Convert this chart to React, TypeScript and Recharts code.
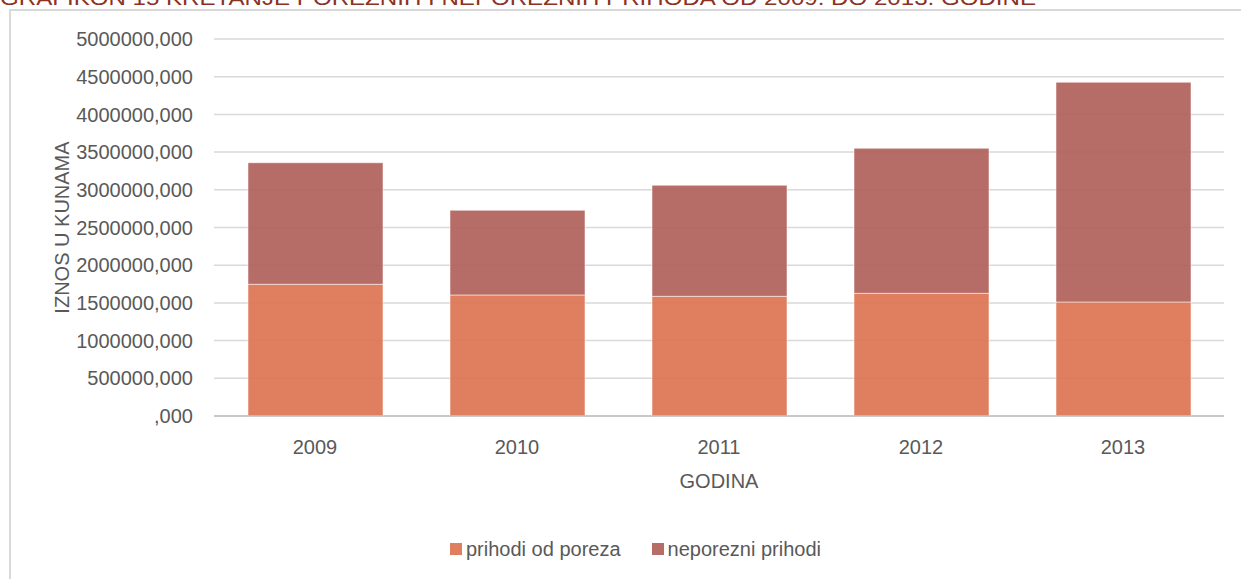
import React from 'react';
import { BarChart, Bar, XAxis, YAxis, CartesianGrid, Legend, Label } from 'recharts';

const years = ['2009', '2010', '2011', '2012', '2013'];
const porezni = [1747000, 1605000, 1587000, 1627000, 1512000];
const neporezni = [1612000, 1123000, 1473000, 1923000, 2914000];
const yTicks = [0, 500000, 1000000, 1500000, 2000000, 2500000, 3000000, 3500000, 4000000, 4500000, 5000000];
const seriesNames = ['prihodi od poreza', 'neporezni prihodi'];
const seriesColors = ['#DD7452', '#B1615A'];

const data = years.map((y, i) => ({ year: y, porezni: porezni[i], neporezni: neporezni[i] }));

const FONT = '"Liberation Sans", Arial, sans-serif';
const TEXT = '#595959';

const fmt = (v: number) => (v === 0 ? ',000' : `${v},000`);

const YLabel = (props: any) => {
  const vb = props.viewBox || {};
  const cx = (vb.x || 0) + 62;
  const cy = (vb.y || 0) + (vb.height || 0) / 2;
  return (
    <text
      x={cx}
      y={cy}
      transform={`rotate(-90 ${cx} ${cy})`}
      textAnchor="middle"
      dominantBaseline="central"
      fill={TEXT}
      fontSize={20}
      fontFamily={FONT}
    >
      IZNOS U KUNAMA
    </text>
  );
};

const LegendContent = () => (
  <div
    style={{
      height: 40,
      display: 'flex',
      alignItems: 'center',
      justifyContent: 'center',
      paddingLeft: 47,
      fontFamily: FONT,
      fontSize: 20,
      color: TEXT,
    }}
  >
    {seriesNames.map((n, i) => (
      <div key={n} style={{ display: 'flex', alignItems: 'center', marginRight: i === 0 ? 31 : 0 }}>
        <span style={{ width: 12, height: 12, background: seriesColors[i], opacity: 0.92, display: 'inline-block', marginRight: 4 }} />
        <span>{n}</span>
      </div>
    ))}
  </div>
);

export default function App() {
  return (
    <div style={{ position: 'absolute', left: 0, top: 0, width: 1241, height: 579, overflow: 'hidden', background: '#fff' }}>
      <svg width={1241} height={20} style={{ position: 'absolute', left: 0, top: 0 }}>
        <text
          x={0}
          y={4.5}
          fontFamily={FONT}
          fontSize={20}
          fill="#8B3224"
          textLength={1036}
          lengthAdjust="spacingAndGlyphs"
        >
          GRAFIKON 15 KRETANJE POREZNIH I NEPOREZNIH PRIHODA OD 2009. DO 2013. GODINE
        </text>
      </svg>
      <div
        style={{
          position: 'absolute',
          left: 9,
          top: 9,
          width: 1260,
          height: 600,
          border: '2px solid #d9d9d9',
          boxSizing: 'border-box',
        }}
      />
      <div style={{ position: 'absolute', left: 0, top: 0 }}>
        <BarChart
          width={1241}
          height={579}
          data={data}
          margin={{ top: 39, right: 17, bottom: 10, left: 0 }}
          barSize={135}
        >
          <CartesianGrid vertical={false} stroke="#d9d9d9" strokeWidth={1.5} />
          <XAxis
            dataKey="year"
            height={113}
            tickLine={false}
            axisLine={{ stroke: '#bfbfbf', strokeWidth: 1.5 }}
            tickMargin={18}
            tick={{ fill: TEXT, fontSize: 20, fontFamily: FONT }}
          >
            <Label
              value="GODINA"
              position="insideTop"
              offset={58}
              fill={TEXT}
              fontSize={20}
              fontFamily={FONT}
            />
          </XAxis>
          <YAxis
            width={214}
            domain={[0, 5000000]}
            ticks={yTicks}
            interval={0}
            tickFormatter={fmt}
            tickLine={false}
            axisLine={false}
            tickMargin={15}
            tick={{ fill: TEXT, fontSize: 20, fontFamily: FONT }}
          >
            <Label content={<YLabel />} />
          </YAxis>
          <Legend verticalAlign="bottom" height={40} content={<LegendContent />} />
          <Bar
            dataKey="porezni"
            name={seriesNames[0]}
            stackId="a"
            fill={seriesColors[0]}
            fillOpacity={0.92}
            stroke="rgba(255,255,255,0.5)"
            strokeWidth={1}
            isAnimationActive={false}
          />
          <Bar
            dataKey="neporezni"
            name={seriesNames[1]}
            stackId="a"
            fill={seriesColors[1]}
            fillOpacity={0.92}
            stroke="rgba(255,255,255,0.5)"
            strokeWidth={1}
            isAnimationActive={false}
          />
        </BarChart>
      </div>
    </div>
  );
}
